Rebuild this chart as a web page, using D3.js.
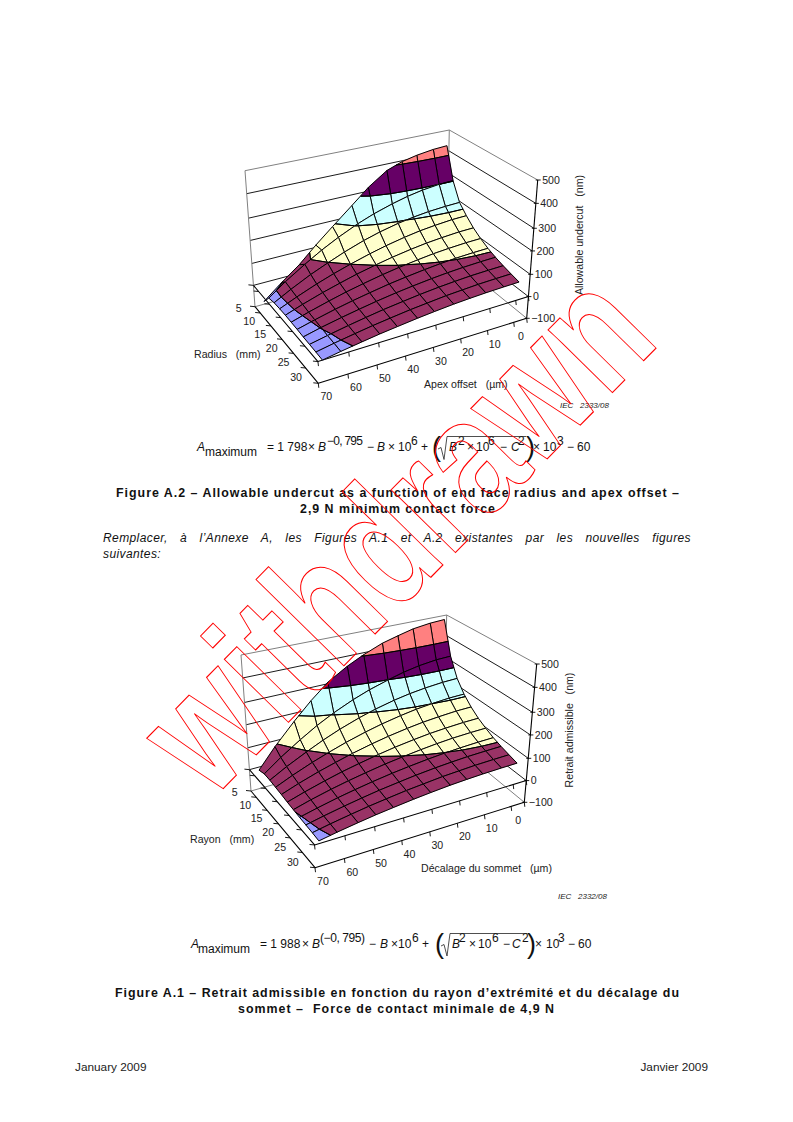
<!DOCTYPE html>
<html><head><meta charset="utf-8">
<script src="https://cdn.jsdelivr.net/npm/d3@7"></script>
<style>html,body{margin:0;padding:0;background:#fff}svg{display:block}text{font-family:"Liberation Sans",Arial,sans-serif}</style>
</head><body><svg id="page" width="793" height="1122"></svg>
<script>
// ---- categories, ticks, bands ----
const radiusRows=[5,7.5,10,12.5,15,17.5,20,22.5,25,27.5,30];
const offsetCols=[0,6,13,19,25,32,38,45,51,57,64,70];
const radiusLabels=[5,10,15,20,25,30];
const offsetLabels=[0,10,20,30,40,50,60,70];
const radiusTicks=[3.75,6.25,11.25,16.25,21.25,26.25,31.25];
const offsetTicks=[-2.5,2.5,12.5,22.5,32.5,42.5,52.5,62.5,72.5];
const zTicks=[-100,0,100,200,300,400,500];
const bandColors=["#9999FF","#993366","#FFFFCC","#CCFFFF","#660066","#FF8080"];
// ---- Figure A.2 (rows: radius, columns: apex offset) ----
const a2R5=[440,436,425,410,385,330,266,190,126,56,-10,-70];
const a2R7=[302,300,291,278,260,234,206,167,129,85,29,-25];
const a2R10=[220,218,213,205,194,176,156,127,98,66,23,-17];
const a2R12=[181,180,174,167,156,140,123,100,77,51,17,-15];
const a2R15=[149,148,143,137,128,115,101,82,62,41,13,-14];
const a2R17=[125,124,120,115,107,96,84,67,51,32,8,-15];
const a2R20=[106,105,102,97,90,80,70,55,41,25,4,-16];
const a2R22=[91,90,87,83,77,68,59,46,33,19,1,-18];
const a2R25=[79,78,76,72,67,59,50,39,27,14,-3,-19];
const a2R27=[69,68,66,62,58,50,43,32,22,10,-5,-20];
const a2R30=[60,59,57,54,50,43,36,26,17,6,-8,-22];
// ---- Figure A.1 ----
const a1R5=[493,489,478,460,440,405,370,320,255,180,90,3];
const a1R7=[341,339,330,317,299,273,245,206,168,124,68,14];
const a1R10=[259,257,250,241,228,208,187,158,129,96,54,14];
const a1R12=[207,206,200,193,182,166,149,126,103,77,43,11];
const a1R15=[171,170,165,159,150,137,123,104,84,63,35,8];
const a1R17=[144,143,139,134,126,115,103,86,70,51,27,4];
const a1R20=[124,123,120,115,108,98,88,73,59,43,22,1];
const a1R22=[107,106,103,99,93,84,75,62,49,35,16,-2];
const a1R25=[94,93,91,87,82,74,65,54,42,29,12,-4];
const a1R27=[83,82,80,76,72,64,57,46,36,24,9,-6];
const a1R30=[73,72,70,67,63,56,49,39,30,19,5,-9];

const svg=d3.select("#page");
const ink="#222";
const axisFont=10.6;

const uScale=d3.scaleLinear().domain([-2.5,72.5]).range([0,1]);
const vScale=d3.scaleLinear().domain([3.75,31.25]).range([0,1]);
const zScale=d3.scaleLinear().domain(zTicks).range([0,.157,.318,.487,.651,.831,1]);

function squareToQuad(p00,p10,p11,p01){
  const [x0,y0]=p00,[x1,y1]=p10,[x2,y2]=p11,[x3,y3]=p01;
  const dx1=x1-x2,dx2=x3-x2,sx=x0-x1+x2-x3,dy1=y1-y2,dy2=y3-y2,sy=y0-y1+y2-y3;
  const d=dx1*dy2-dx2*dy1;
  const g=(sx*dy2-dx2*sy)/d,h=(dx1*sy-sx*dy1)/d;
  const a=x1-x0+g*x1,b=x3-x0+h*x3,c=x0,dd=y1-y0+g*y1,e=y3-y0+h*y3,f=y0;
  return (u,v)=>{const w=g*u+h*v+1;return [(a*u+b*v+c)/w,(dd*u+e*v+f)/w];};
}

function drawChart(cfg){
  const g=svg.append("g");
  const low=squareToQuad(cfg.backBot,cfg.leftBot,cfg.frontBot,cfg.rightBot);
  const high=squareToQuad(cfg.backTop,cfg.leftTop,cfg.frontTop,cfg.rightTop);
  const proj=(u,v,z)=>{const t=zScale(z),a=low(u,v),b=high(u,v);return [a[0]+(b[0]-a[0])*t,a[1]+(b[1]-a[1])*t];};
  const line=d3.line();
  const seg=(pts,stroke,w)=>g.append("path").attr("d",line(pts)).attr("fill","none").attr("stroke",stroke).attr("stroke-width",w).attr("stroke-linejoin","round");
  zTicks.forEach(z=>{
    const edge=(z===-100||z===500);
    seg([proj(1,0,z),proj(0,0,z),proj(0,1,z)],edge?"#808080":"#000",edge?1:.9);
  });
  seg([proj(1,0,-100),proj(1,0,500)],"#808080",1);
  seg([proj(0,0,-100),proj(0,0,500)],"#808080",1);
  [0,-100].forEach(z=>{
    seg([proj(1,0,z),proj(1,1,z),proj(0,1,z)],"#000",1.1);
    offsetTicks.forEach(f=>{
      const p=proj(uScale(f),1,z);
      seg([p,[p[0]+.5,p[1]+4.5]],"#000",.9);
    });
    radiusTicks.forEach(r=>{
      const p=proj(1,vScale(r),z);
      seg([p,[p[0]-5,p[1]-.5]],"#000",.9);
    });
  });
  const clip=(poly,level,keepAbove)=>{
    const out=[];
    poly.forEach((a,k)=>{
      const b=poly[(k+1)%poly.length];
      const ia=keepAbove?a.z>=level:a.z<=level, ib=keepAbove?b.z>=level:b.z<=level;
      if(ia)out.push(a);
      if(ia!==ib){const t=(level-a.z)/(b.z-a.z);out.push({i:a.i+(b.i-a.i)*t,j:a.j+(b.j-a.j)*t,z:level});}
    });
    return out;
  };
  const iOf=d3.scaleLinear().domain(d3.range(offsetCols.length)).range(offsetCols);
  const jOf=d3.scaleLinear().domain(d3.range(radiusRows.length)).range(radiusRows);
  const P=d=>proj(uScale(iOf(d.i)),vScale(jOf(d.j)),d.z);
  for(let j=0;j<radiusRows.length-1;j++)for(let i=0;i<offsetCols.length-1;i++){
    const v=(ii,jj)=>({i:ii,j:jj,z:cfg.surface[jj][ii]});
    const ring=[v(i,j),v(i+1,j),v(i+1,j+1),v(i,j+1)];
    const contours=[];
    bandColors.forEach((col,b)=>{
      const lo=zTicks[b],hi=zTicks[b+1];
      const poly=clip(clip(ring,lo,true),hi,false);
      if(poly.length<3)return;
      g.append("path").attr("d",line(poly.map(P))+"Z").attr("fill",col).attr("stroke",col).attr("stroke-width",.4);
      poly.forEach((a,k)=>{const c=poly[(k+1)%poly.length];
        if(a.z===c.z&&(a.z===lo||a.z===hi)&&!(a.i===c.i||a.j===c.j))contours.push([P(a),P(c)]);
      });
    });
    g.append("path").attr("d",line(ring.map(P))+"Z").attr("fill","none").attr("stroke","#000").attr("stroke-width",1).attr("stroke-linejoin","round");
    contours.forEach(c=>seg(c,"#000",1));
  }
  seg([proj(0,1,-100),proj(0,1,500)],"#000",1.1);
  zTicks.forEach(z=>{
    const p=proj(0,1,z);
    seg([[p[0]-2,p[1]],[p[0]+3,p[1]]],"#000",.9);
    g.append("text").attr("x",p[0]+4.5).attr("y",p[1]+3.8).attr("font-size",axisFont).attr("fill",ink).text(String(z).replace("-","\u2212"));
  });
  offsetLabels.forEach(f=>{
    const p=proj(uScale(f),1,-100);
    g.append("text").attr("x",p[0]+.6).attr("y",p[1]+19.4).attr("text-anchor","middle").attr("font-size",axisFont).attr("fill",ink).text(f);
  });
  radiusLabels.forEach(r=>{
    const p=proj(1,vScale(r),-100);
    g.append("text").attr("x",p[0]-19).attr("y",p[1]+2).attr("text-anchor","middle").attr("font-size",axisFont).attr("fill",ink).text(r);
  });
  const at=(t,x,y,o={})=>{const e=g.append("text").attr("x",x).attr("y",y).attr("font-size",axisFont).attr("fill",ink).style("white-space","pre").text(t);
    if(o.rot)e.attr("transform",`rotate(${o.rot} ${x} ${y})`);if(o.anchor)e.attr("text-anchor",o.anchor);return e;};
  at(cfg.radiusTitle,cfg.radiusTitleX,cfg.radiusTitleY);
  at(cfg.offsetTitle,cfg.offsetTitleX,cfg.offsetTitleY);
  at(cfg.zTitle,cfg.zTitleX,cfg.zTitleY,{rot:-90,anchor:"middle"});
}

drawChart({surface:[a2R5,a2R7,a2R10,a2R12,a2R15,a2R17,a2R20,a2R22,a2R25,a2R27,a2R30],
  leftTop:[245,170.7],leftBot:[255,306.7],backTop:[449.3,130],backBot:[446.7,253.3],
  rightTop:[537.7,180],rightBot:[526.7,318.3],frontTop:[316,245],frontBot:[318.3,383.3],
  radiusTitle:"Radius   (mm)",radiusTitleX:194,radiusTitleY:358,
  offsetTitle:"Apex offset   (\u00b5m)",offsetTitleX:424,offsetTitleY:388,
  zTitle:"Allowable undercut   (nm)",zTitleX:583,zTitleY:235});
drawChart({surface:[a1R5,a1R7,a1R10,a1R12,a1R15,a1R17,a1R20,a1R22,a1R25,a1R27,a1R30],
  leftTop:[241,655],leftBot:[251,791],backTop:[446.7,615],backBot:[443.7,736],
  rightTop:[536.7,664],rightBot:[524.3,802.3],frontTop:[312,723],frontBot:[315,867.7],
  radiusTitle:"Rayon   (mm)",radiusTitleX:190,radiusTitleY:843,
  offsetTitle:"D\u00e9calage du sommet   (\u00b5m)",offsetTitleX:421,offsetTitleY:872,
  zTitle:"Retrait admissible   (nm)",zTitleX:573,zTitleY:730});

// ---- page text ----
function T(s,x,y,o={}){
  const e=svg.append("text").attr("x",x).attr("y",y).attr("font-size",o.size||12).attr("fill",o.fill||"#111").style("white-space","pre").text(s);
  if(o.bold)e.attr("font-weight","bold");
  if(o.italic)e.attr("font-style","italic");
  if(o.anchor)e.attr("text-anchor",o.anchor);
  if(o.len)e.attr("textLength",o.len).attr("lengthAdjust","spacing");
  return e;
}
const I={italic:true};
function row(items,y){items.forEach(([s,x,o])=>T(s,x,y,o||{}));}
// Equation A.2
T("A",197,451,{italic:true,size:12});
T("maximum",205,456,{size:12});
row([["= 1 798",267],["\u00d7",308],["B",318,I],["\u2212",367],["B",377,I],["\u00d7",388],["10",398],["+",421],
     ["B",449,I],["\u00d7",467],["10",476],["\u2212",500],["C",511,I],["\u00d7",533],["10",543],["\u2212",567],["60",577]],451.3);
row([["\u22120, 795",327,{len:36}],["6",411],["2",458],["6",488],["2",518],["3",557]],445);
T("(",432,456,{size:27});T(")",526,456,{size:27});
svg.append("path").attr("d","M438,449L441,447.5L444,459.5L447,436.5H526").attr("fill","none").attr("stroke","#222").attr("stroke-width",.8);
// Equation A.1
T("A",191,948,{italic:true,size:12});
T("maximum",198,953,{size:12});
row([["= 1 988",260],["\u00d7",302],["B",312,I],["\u2212",369],["B",380,I],["\u00d7",391],["10",398],["+",422],
     ["B",452,I],["\u00d7",469],["10",478],["\u2212",503],["C",512,I],["\u00d7",535],["10",546],["\u2212",568],["60",578]],948);
row([["(\u22120, 795)",320,{len:45}],["6",412],["2",459],["6",492],["2",522],["3",558]],941.5);
T("(",435,953,{size:27});T(")",527,953,{size:27});
svg.append("path").attr("d","M441,946L444,944.5L447,956L450,933.5H527").attr("fill","none").attr("stroke","#222").attr("stroke-width",.8);

// Captions
const cap={bold:true,size:12.4};
T("Figure A.2 \u2013 Allowable undercut as a function of end face radius and apex offset \u2013",116,497,{...cap,len:563});
T("2,9 N minimum contact force",300,513,{...cap,len:195});
T("Figure A.1 \u2013 Retrait admissible en fonction du rayon d\u2019extr\u00e9mit\u00e9 et du d\u00e9calage du",115,997,{...cap,len:564});
T("sommet \u2013  Force de contact minimale de 4,9 N",238,1013,{...cap,len:316});
const just=T("Remplacer, \u00e0 l\u2019Annexe A, les Figures A.1 et A.2 existantes par les nouvelles figures",103,542,{italic:true,size:12}).attr("letter-spacing",.4);
just.attr("word-spacing",(588-just.node().getComputedTextLength())/13);
T("suivantes:",103,558,{italic:true,size:12}).attr("letter-spacing",.4);
T("IEC   2333/08",560,408,{italic:true,size:8,fill:"#222"});
T("IEC   2332/08",558,899,{italic:true,size:8,fill:"#222"});
T("January 2009",75,1071,{size:11.8,fill:"#222"});
T("Janvier 2009",708,1071,{size:11.8,fill:"#222",anchor:"end"});

// Watermark
svg.append("text").attr("transform","translate(211,801) rotate(-45.5) scale(.765,1)")
  .attr("font-size",170).attr("font-weight","bold").attr("fill","none").attr("stroke","#f00").attr("stroke-width",1)
  .attr("vector-effect","non-scaling-stroke").text("withdrawn");
</script></body></html>
